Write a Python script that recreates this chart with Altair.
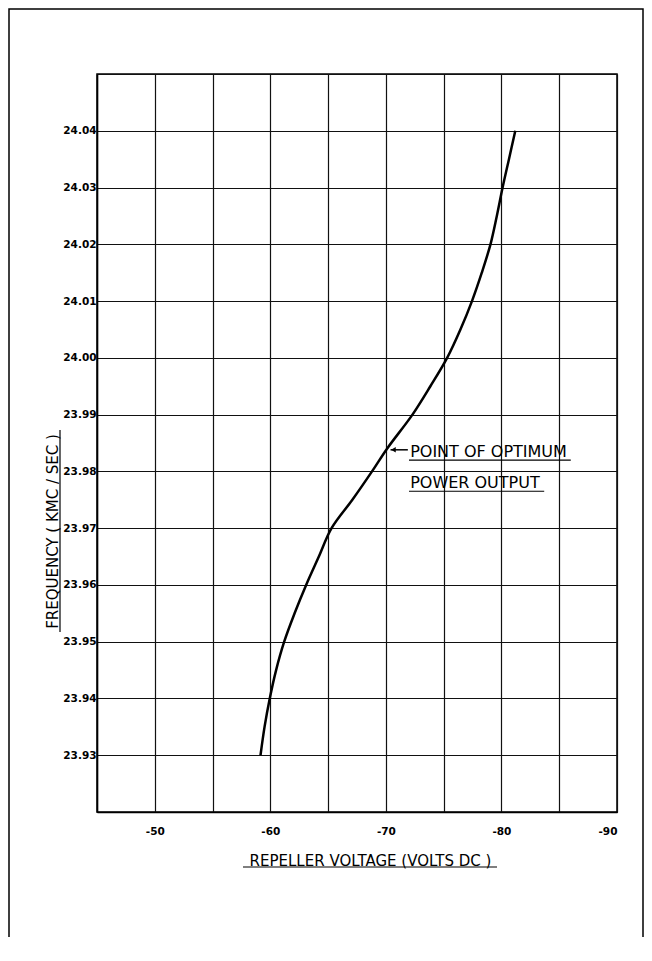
import altair as alt
import pandas as pd

# Repeller voltage (V DC) vs frequency (kMc/sec)
voltage = [-59.15, -59.5, -59.95, -60.5, -61.2, -62.1, -63.1, -64.2, -65.3, -67.1,
           -68.8, -70.1, -72.3, -73.85, -75.3, -76.45, -77.45, -78.3, -79.05, -79.6,
           -80.1, -80.65, -81.2]
frequency = [23.930, 23.935, 23.940, 23.945, 23.950, 23.955, 23.960, 23.965, 23.970, 23.975,
             23.980, 23.984, 23.990, 23.995, 24.000, 24.005, 24.010, 24.015, 24.020, 24.025,
             24.030, 24.035, 24.040]

x_ticks = [-45, -50, -55, -60, -65, -70, -75, -80, -85, -90]
y_ticks = [23.92, 23.93, 23.94, 23.95, 23.96, 23.97, 23.98, 23.99,
           24.00, 24.01, 24.02, 24.03, 24.04, 24.05]

x_title = "REPELLER  VOLTAGE (VOLTS DC )"
y_title = "FREQUENCY  ( KMC / SEC )"
note_lines = ["POINT OF OPTIMUM", "POWER OUTPUT"]
optimum_v, optimum_f = -70.1, 23.984

df = pd.DataFrame({"voltage": voltage, "frequency": frequency})

W, H = 520, 738
FONT = "DejaVu Sans"
one = alt.InlineData(values=[{}])

xs = alt.Scale(domain=[-90, -45], reverse=True, nice=False, zero=False)
ys = alt.Scale(domain=[23.92, 24.05], nice=False, zero=False)

x_axis = alt.Axis(values=x_ticks, title=x_title, grid=True, ticks=False, tickSize=0,
                  labelExpr="datum.value % 10 == 0 ? '-' + abs(datum.value) : ''",
                  labelBaseline="middle", labelPadding=19,
                  titleX=273, titleY=48, titleBaseline="middle", titleAlign="center",
                  titleAnchor="start")
y_axis = alt.Axis(values=y_ticks, title=y_title, grid=True, ticks=False, tickSize=0,
                  labelExpr="datum.value > 23.925 && datum.value < 24.045 ? format(datum.value, '.2f') : ''",
                  labelBaseline="middle", labelPadding=1,
                  titleX=-45, titleY=457, titleBaseline="middle", titleAlign="center",
                  titleAngle=270, titleAnchor="start")

frame = alt.Chart(one).mark_rect(fillOpacity=0, stroke="black", strokeWidth=1.5).encode(
    x=alt.value(-88), x2=alt.value(546), y=alt.value(-65), y2=alt.value(900))

curve = alt.Chart(df).mark_line(color="black", strokeWidth=2.5, interpolate="catmull-rom").encode(
    x=alt.X("voltage:Q", scale=xs, axis=x_axis),
    y=alt.Y("frequency:Q", scale=ys, axis=y_axis))

arrow = alt.Chart(one).mark_rule(color="black", strokeWidth=1.5).encode(
    x=alt.datum(optimum_v - 0.3), x2=alt.datum(optimum_v - 1.8), y=alt.datum(optimum_f - 0.0002))
head = alt.Chart(one).mark_point(shape="triangle-left", filled=True, size=30,
                                 color="black", opacity=1).encode(
    x=alt.datum(optimum_v - 0.55), y=alt.datum(optimum_f - 0.0002))

t1 = alt.Chart(one).mark_text(align="left", baseline="middle", font=FONT, fontSize=16,
                              color="black").encode(
    x=alt.datum(-72.1), y=alt.datum(23.9835), text=alt.value(note_lines[0]))
t2 = alt.Chart(one).mark_text(align="left", baseline="middle", font=FONT, fontSize=16,
                              color="black").encode(
    x=alt.datum(-72.1), y=alt.datum(23.978), text=alt.value(note_lines[1]))
u1 = alt.Chart(one).mark_rule(color="black", strokeWidth=1.2).encode(
    x=alt.datum(-72.0), x2=alt.datum(-86.0), y=alt.datum(23.982))
u2 = alt.Chart(one).mark_rule(color="black", strokeWidth=1.2).encode(
    x=alt.datum(-72.0), x2=alt.datum(-83.7), y=alt.datum(23.9765))

# underlines under the axis titles (decoration)
ux = alt.Chart(one).mark_rule(color="black", strokeWidth=1.2).encode(
    x=alt.value(146), x2=alt.value(400), y=alt.value(793))
uy = alt.Chart(one).mark_rule(color="black", strokeWidth=1.2).encode(
    x=alt.value(-37), y=alt.value(356), y2=alt.value(558))

chart = alt.layer(frame, curve, arrow, head, t1, t2, u1, u2, ux, uy).properties(
    width=W, height=H,
    autosize=alt.AutoSizeParams(type="none"),
    padding={"left": 89, "top": 66, "right": 27, "bottom": 125},
    background="white",
).configure_view(
    stroke="black", strokeWidth=1.5
).configure_axis(
    domainColor="black", domainWidth=1.5,
    gridColor="#111111", gridWidth=1.2, gridOpacity=1,
    labelFont=FONT, labelFontWeight="bold", labelFontSize=10.5, labelColor="black",
    titleFont=FONT, titleFontWeight="normal", titleFontSize=15, titleColor="black",
)

chart.save("out.html", embed_options={"renderer": "svg", "actions": False})
